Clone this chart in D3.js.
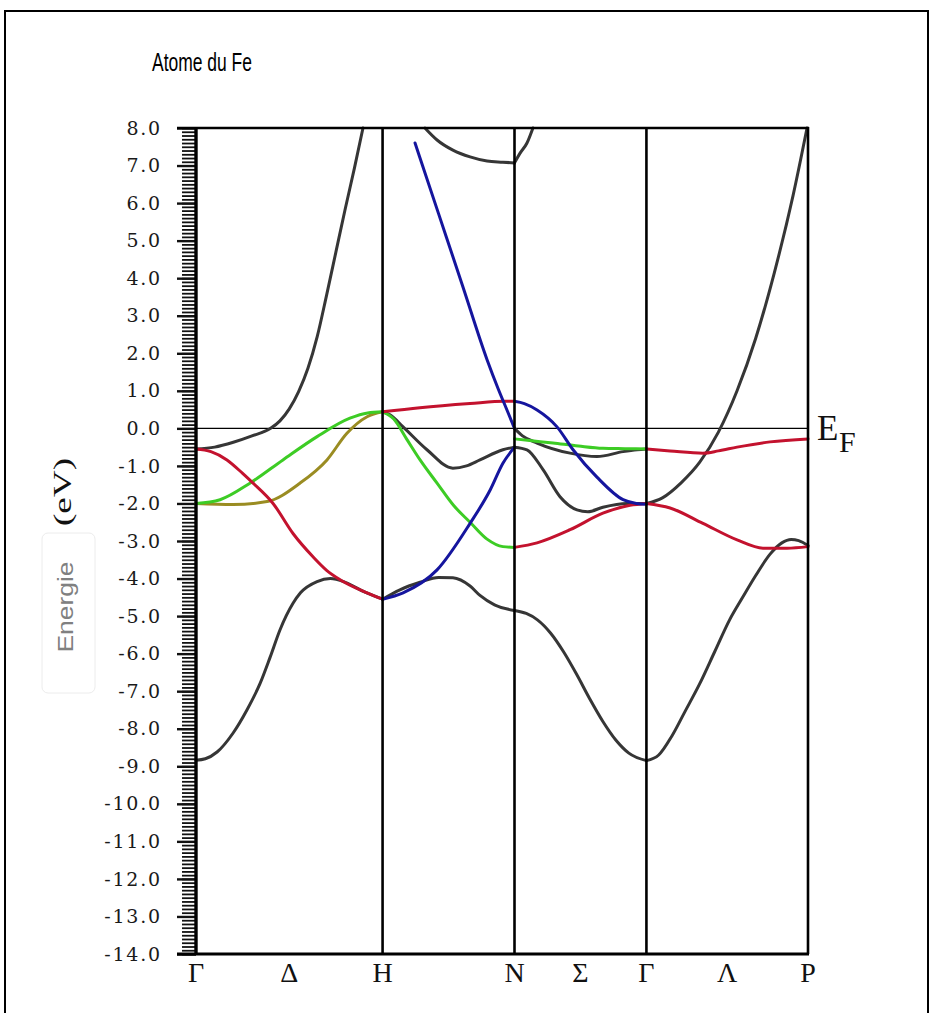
<!DOCTYPE html>
<html>
<head>
<meta charset="utf-8">
<script src="https://cdn.jsdelivr.net/npm/d3@7"></script>
<style>
  body { margin: 0; background: #fff; }
  svg { display: block; }
</style>
</head>
<body>
<svg width="929" height="1013"></svg>
<script>
// symmetry points along the path (units of 2pi/a)
const kSym = [0, 1, 1.7071, 2.4142, 3.2802]
const kLabelPos = [0, 0.5, 1, 1.7071, 2.0607, 2.4142, 2.8472, 3.2802]
const kLabelText = ["Γ", "Δ", "H", "N", "Σ", "Γ", "Λ", "P"]
const energyTicks = [8, 7, 6, 5, 4, 3, 2, 1, 0, -1, -2, -3, -4, -5, -6, -7, -8, -9, -10, -11, -12, -13, -14]

// bands, [k, E in eV]
const blackBands = [
    [[0,-0.55],[0.1,-0.5],[0.2,-0.37],[0.3,-0.2],[0.4,0.0],[0.45,0.2],[0.5,0.52],[0.55,0.98],[0.6,1.6],[0.65,2.45],[0.7,3.55],[0.75,4.7],[0.8,5.85],[0.85,6.95],[0.895,8.0]],
    [[0,-8.84],[0.05,-8.8],[0.113,-8.62],[0.198,-8.12],[0.273,-7.5],[0.343,-6.8],[0.397,-6.1],[0.45,-5.37],[0.52,-4.66],[0.56,-4.38],[0.649,-4.08],[0.72,-4.0],[0.8,-4.1],[0.9,-4.35],[1.0,-4.55]],
    [[1.227,8.0],[1.292,7.68],[1.377,7.41],[1.469,7.23],[1.56,7.12],[1.645,7.09],[1.7071,7.07]],
    [[1.0,0.44],[1.04,0.36],[1.11,0.04],[1.238,-0.57],[1.377,-1.06],[1.45,-1.0],[1.522,-0.84],[1.645,-0.57],[1.7071,-0.5]],
    [[1.0,-4.55],[1.093,-4.3],[1.201,-4.1],[1.3,-3.97],[1.377,-3.98],[1.469,-4.2],[1.522,-4.45],[1.6,-4.7],[1.7071,-4.85]],
    [[1.7071,7.07],[1.737,7.33],[1.774,7.6],[1.806,8.0]],
    [[1.7071,0.0],[1.75,-0.2],[1.828,-0.39],[2.005,-0.66],[2.149,-0.75],[2.289,-0.62],[2.364,-0.57],[2.4142,-0.55]],
    [[1.7071,-0.5],[1.774,-0.57],[1.86,-1.1],[1.951,-1.82],[2.042,-2.17],[2.1,-2.22],[2.181,-2.1],[2.31,-2.0],[2.4142,-2.0]],
    [[1.7071,-4.85],[1.77,-4.93],[1.83,-5.1],[1.9,-5.45],[1.97,-5.95],[2.04,-6.55],[2.11,-7.2],[2.18,-7.8],[2.25,-8.3],[2.32,-8.65],[2.4142,-8.85]],
    [[2.4142,-2.0],[2.5,-1.85],[2.6,-1.45],[2.7,-0.9],[2.8,-0.1],[2.9,1.0],[3.0,2.4],[3.1,4.15],[3.2,6.2],[3.275,8.0]],
    [[2.4142,-8.85],[2.48,-8.7],[2.55,-8.2],[2.62,-7.55],[2.7,-6.8],[2.78,-5.95],[2.86,-5.1],[2.93,-4.5],[3.0,-3.92],[3.077,-3.35],[3.14,-3.05],[3.19,-2.96],[3.23,-2.99],[3.2802,-3.12]]
]
const oliveBands = [
    [[0,-2.0],[0.198,-2.03],[0.381,-1.95],[0.557,-1.46],[0.702,-0.84],[0.809,-0.13],[0.917,0.31],[1.0,0.44]]
]
const greenBands = [
    [[0,-2.0],[0.129,-1.9],[0.289,-1.46],[0.466,-0.84],[0.649,-0.22],[0.825,0.27],[0.92,0.41],[1.0,0.44]],
    [[1.0,0.44],[1.06,0.25],[1.131,-0.3],[1.201,-0.84],[1.292,-1.46],[1.38,-2.05],[1.469,-2.5],[1.56,-2.95],[1.645,-3.15],[1.7071,-3.17]],
    [[1.7071,-0.28],[1.8,-0.33],[1.913,-0.39],[2.05,-0.47],[2.181,-0.53],[2.3,-0.54],[2.4142,-0.55]]
]
const redBands = [
    [[0,-0.55],[0.08,-0.62],[0.166,-0.84],[0.25,-1.2],[0.306,-1.46],[0.413,-2.0],[0.52,-2.8],[0.627,-3.42],[0.7,-3.78],[0.772,-4.03],[0.917,-4.38],[1.0,-4.55]],
    [[1.0,0.44],[1.2,0.55],[1.469,0.66],[1.656,0.72],[1.7071,0.72]],
    [[1.7071,-3.17],[1.828,-3.05],[2.005,-2.7],[2.181,-2.26],[2.326,-2.05],[2.4142,-2.0]],
    [[2.4142,-0.55],[2.541,-0.6],[2.717,-0.66],[2.8,-0.6],[2.9,-0.5],[3.077,-0.36],[3.2802,-0.28]],
    [[2.4142,-2.0],[2.541,-2.12],[2.717,-2.53],[2.9,-2.97],[3.039,-3.19],[3.168,-3.19],[3.2802,-3.15]]
]
const blueBands = [
    [[1.174,7.6],[1.3,5.72],[1.43,3.78],[1.56,1.83],[1.62,1.05],[1.67,0.45],[1.7071,0.0]],
    [[1.0,-4.55],[1.11,-4.38],[1.292,-3.77],[1.469,-2.53],[1.576,-1.65],[1.645,-0.93],[1.7071,-0.5]],
    [[1.7071,0.72],[1.76,0.66],[1.828,0.49],[1.935,0.04],[2.021,-0.57],[2.149,-1.3],[2.289,-1.9],[2.36,-2.0],[2.4142,-2.02]]
]

const svg = d3.select("svg")
const x = d3.scaleLinear().domain([0, 3.2802]).range([196, 808])
const y = d3.scaleLinear().domain([-14, 8]).range([954, 128])

// outer frame
svg.append("path")
    .attr("d", "M5,1013 V11 H928 V1013")
    .attr("style", "fill: none; stroke: #000; stroke-width: 2")

svg.append("text")
    .attr("x", 152).attr("y", 71)
    .attr("textLength", 100).attr("lengthAdjust", "spacingAndGlyphs")
    .attr("style", "font-family: 'Liberation Sans', Arial, sans-serif; font-size: 26px; fill: #000")
    .text("Atome du Fe")

// y axis: minor comb then major ticks with labels
svg.append("g").attr("transform", "translate(196,0)")
    .call(d3.axisLeft(y).tickValues(d3.range(-140, 81).map(d => d / 10)).tickSize(14).tickFormat(""))
    .call(g => g.select(".domain").remove())
    .call(g => g.selectAll("line").attr("stroke", "#111").attr("stroke-width", 1.8))

svg.append("g").attr("transform", "translate(196,0)")
    .call(d3.axisLeft(y).tickValues(energyTicks).tickSize(19).tickPadding(15).tickFormat(d => d.toFixed(1)))
    .call(g => g.select(".domain").remove())
    .call(g => g.selectAll("line").attr("stroke", "#111").attr("stroke-width", 2.4))
    .call(g => g.selectAll("text")
        .attr("style", "font-family: 'DejaVu Serif', serif; font-size: 19px; letter-spacing: 1.8px; fill: #1a1a1a"))

// fermi level
svg.append("line")
    .attr("x1", x(0)).attr("x2", x(3.2802)).attr("y1", y(0)).attr("y2", y(0))
    .attr("style", "stroke: #000; stroke-width: 1.3")

// bands
const line = d3.line().x(d => x(d[0])).y(d => y(d[1])).curve(d3.curveMonotoneX)
const groups = [
    [blackBands, "#363636"],
    [oliveBands, "#9a8c22"],
    [greenBands, "#3dcc25"],
    [redBands, "#c3122e"],
    [blueBands, "#15159e"]
]
groups.forEach(function(gr) {
    svg.append("g").selectAll("path").data(gr[0]).join("path")
        .attr("d", line)
        .attr("style", "fill: none; stroke: " + gr[1] + "; stroke-width: 3; stroke-linecap: round; stroke-linejoin: round")
})

// vertical lines at symmetry points
svg.append("g").selectAll("line").data(kSym.slice(1, 4)).join("line")
    .attr("x1", d => x(d)).attr("x2", d => x(d)).attr("y1", y(8)).attr("y2", y(-14))
    .attr("style", "stroke: #000; stroke-width: 2.6")

// frame of the plot
svg.append("line").attr("x1", 177).attr("x2", 809).attr("y1", y(8)).attr("y2", y(8))
    .attr("style", "stroke: #000; stroke-width: 2.4")
svg.append("line").attr("x1", 177).attr("x2", 809).attr("y1", y(-14)).attr("y2", y(-14))
    .attr("style", "stroke: #000; stroke-width: 3")
svg.append("line").attr("x1", x(0)).attr("x2", x(0)).attr("y1", y(8) - 1).attr("y2", y(-14) + 1)
    .attr("style", "stroke: #000; stroke-width: 3.4")
svg.append("line").attr("x1", x(3.2802)).attr("x2", x(3.2802)).attr("y1", y(8) - 1).attr("y2", y(-14))
    .attr("style", "stroke: #000; stroke-width: 2.6")

// k labels
svg.append("g").selectAll("text").data(kLabelPos).join("text")
    .attr("x", d => x(d)).attr("y", 982)
    .attr("text-anchor", "middle")
    .attr("style", "font-family: 'Liberation Serif', 'Times New Roman', serif; font-size: 28px; fill: #111")
    .text((d, i) => kLabelText[i])

// E_F
svg.append("text").attr("x", 817).attr("y", 440)
    .attr("style", "font-family: 'Liberation Serif', serif; font-size: 35px; fill: #111")
    .text("E")
svg.append("text").attr("x", 839).attr("y", 452)
    .attr("style", "font-family: 'Liberation Serif', serif; font-size: 30px; fill: #111")
    .text("F")

// y label
svg.append("rect").attr("x", 42).attr("y", 533).attr("width", 53).attr("height", 160).attr("rx", 6)
    .attr("style", "fill: none; stroke: #ececec; stroke-width: 1")
svg.append("text")
    .attr("transform", "translate(71,492) rotate(-90)")
    .attr("text-anchor", "middle")
    .attr("textLength", 68).attr("lengthAdjust", "spacingAndGlyphs")
    .attr("style", "font-family: 'Liberation Serif', serif; font-size: 25px; fill: #111")
    .text("(eV)")
svg.append("text")
    .attr("transform", "translate(73,607) rotate(-90)")
    .attr("text-anchor", "middle")
    .attr("textLength", 91).attr("lengthAdjust", "spacingAndGlyphs")
    .attr("style", "font-family: 'Liberation Sans', Arial, sans-serif; font-size: 22px; fill: #808080")
    .text("Energie")
</script>
</body>
</html>
